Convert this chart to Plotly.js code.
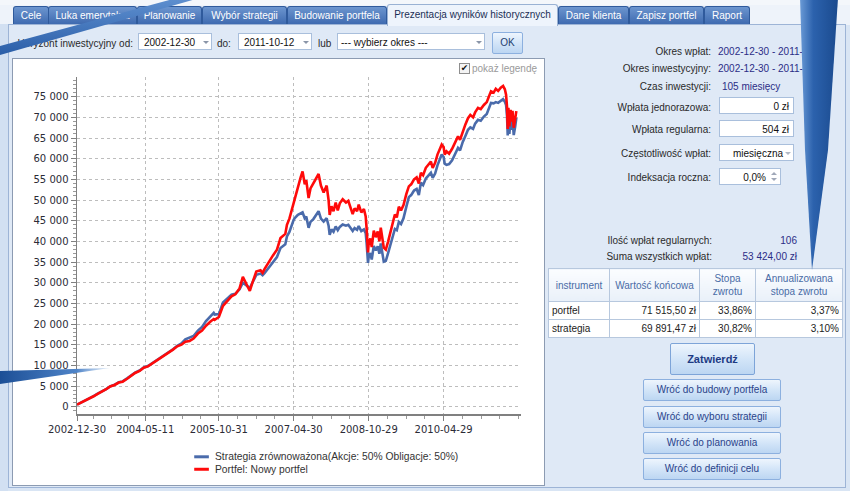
<!DOCTYPE html>
<html><head><meta charset="utf-8">
<script src="https://cdn.plot.ly/plotly-3.0.1.min.js"></script>
<style>
body{margin:0;width:850px;height:491px;overflow:hidden;background:#d9e5f4;font-family:"Liberation Sans",Arial,sans-serif;font-size:10px;color:#222;position:relative}
.abs{position:absolute}
.tab{position:absolute;top:6px;height:17px;border:1px solid #2f5a9c;border-bottom:none;border-radius:3px 3px 0 0;background:linear-gradient(#6c95cf,#3f6bb0);color:#fff;text-align:center;line-height:17px;font-size:10px;white-space:nowrap;overflow:hidden}
.tab.act{top:4px;height:21px;background:#eef4fc;border-color:#9ab2d4;color:#1b2f55;line-height:19px;z-index:2}
.box{position:absolute;background:#fff;border:1px solid #a9bfdc;height:17px;line-height:17px;font-size:10px;color:#111;white-space:nowrap;overflow:hidden}
.arr{position:absolute;width:0;height:0;border-left:3px solid transparent;border-right:3px solid transparent;border-top:3px solid #8a95a8}
.lbl{position:absolute;text-align:right;white-space:nowrap;color:#2a2a2a}
.val{position:absolute;white-space:nowrap;color:#2b2d86}
.btn{position:absolute;border:1px solid #8cb0df;border-radius:2px;background:linear-gradient(#eef5fd,#d3e5f8 50%,#bcd6f2);color:#2a438a;text-align:center;font-size:10px;white-space:nowrap}
table{border-collapse:collapse;font-size:10px}
td{border:1px solid #b7c8de;padding:0 3px;white-space:nowrap}
th{border:1px solid #b7c8de;font-weight:normal;color:#4a6ca6;background:linear-gradient(#fbfdff,#e9f0f9);line-height:13px}
</style></head>
<body>
<div class="abs" style="left:0;top:0;width:850px;height:5px;background:#f4f7fb;border-bottom:1px solid #c9d6e8"></div>
<div class="abs" style="left:0;top:5px;width:850px;height:20px;background:#eef3fa"></div>
<div class="abs" style="left:8px;top:24px;width:836px;height:462px;background:#dfe9f6;border:1px solid #9db4d6"></div>
<div class="abs" style="left:0;top:24px;width:8px;height:467px;background:#d2e0f2"></div>
<div id="tabs"></div>
<div class="lbl" style="left:0;width:133px;top:38px">Horyzont inwestycyjny od:</div>
<div class="box" style="left:138px;top:33px;width:74px;padding-left:5px;box-sizing:border-box">2002-12-30</div>
<div class="arr" style="left:203px;top:41px"></div>
<div class="lbl" style="left:217px;top:38px;text-align:left">do:</div>
<div class="box" style="left:238px;top:33px;width:74px;padding-left:5px;box-sizing:border-box">2011-10-12</div>
<div class="arr" style="left:303px;top:41px"></div>
<div class="lbl" style="left:318px;top:38px;text-align:left">lub</div>
<div class="box" style="left:337px;top:33px;width:148px;padding-left:3px;box-sizing:border-box">--- wybierz okres ---</div>
<div class="arr" style="left:476px;top:41px"></div>
<div class="btn" style="left:492px;top:32px;width:29px;height:20px;line-height:20px;color:#23406f">OK</div>
<div class="abs" style="left:12px;top:58px;width:531px;height:426px;background:#fff;border:1px solid #8c9bb2"></div>
<div id="chart" class="abs" style="left:12px;top:58px;width:532px;height:427px"></div>
<div class="abs" style="left:459px;top:63px;width:9px;height:9px;border:1px solid #8e8e8e;background:#f4f4f4;font-family:'DejaVu Sans';font-size:9px;line-height:9px;text-align:center;color:#111">✔</div>
<div class="abs" style="left:472px;top:63px;color:#9a9a9a;font-size:10px">pokaż legendę</div>
<div class="lbl" style="right:139px;top:46px">Okres wpłat:</div>
<div class="val" style="left:718px;top:46px">2002-12-30 - 2011-10-12</div>
<div class="lbl" style="right:139px;top:63px">Okres inwestycyjny:</div>
<div class="val" style="left:718px;top:63px">2002-12-30 - 2011-10-12</div>
<div class="lbl" style="right:139px;top:81px">Czas inwestycji:</div>
<div class="val" style="left:722px;top:81px">105 miesięcy</div>
<div class="lbl" style="right:139px;top:102px">Wpłata jednorazowa:</div>
<div class="box" style="left:719px;top:97px;width:75px;text-align:right;padding-right:4px;box-sizing:border-box">0 zł</div>
<div class="lbl" style="right:139px;top:124px">Wpłata regularna:</div>
<div class="box" style="left:719px;top:120px;width:75px;text-align:right;padding-right:4px;box-sizing:border-box">504 zł</div>
<div class="lbl" style="right:139px;top:148px">Częstotliwość wpłat:</div>
<div class="box" style="left:719px;top:144px;width:75px;padding-left:13px;box-sizing:border-box">miesięczna</div>
<div class="arr" style="left:785px;top:152px;border-top-color:#b0b8c6"></div>
<div class="lbl" style="right:139px;top:172px">Indeksacja roczna:</div>
<div class="box" style="left:719px;top:168px;width:62px;text-align:right;padding-right:14px;box-sizing:border-box">0,0%</div>
<div class="abs" style="left:771px;top:172px;width:0;height:0;border-left:3px solid transparent;border-right:3px solid transparent;border-bottom:3px solid #a0a8b8"></div>
<div class="abs" style="left:771px;top:178px;width:0;height:0;border-left:3px solid transparent;border-right:3px solid transparent;border-top:3px solid #a0a8b8"></div>
<div class="lbl" style="right:138px;top:235px">Ilość wpłat regularnych:</div>
<div class="val" style="right:53px;top:235px">106</div>
<div class="lbl" style="right:138px;top:251px">Suma wszystkich wpłat:</div>
<div class="val" style="right:53px;top:251px">53 424,00 zł</div>
<table class="abs" style="left:548px;top:268px;width:295px;background:#fff">
<tr style="height:33px"><th style="width:58px">instrument</th><th style="width:87px">Wartość końcowa</th><th style="width:53px">Stopa<br>zwrotu</th><th>Annualizowana<br>stopa zwrotu</th></tr>
<tr style="height:18px"><td>portfel</td><td style="text-align:right">71 515,50 zł</td><td style="text-align:right">33,86%</td><td style="text-align:right">3,37%</td></tr>
<tr style="height:18px"><td>strategia</td><td style="text-align:right">69 891,47 zł</td><td style="text-align:right">30,82%</td><td style="text-align:right">3,10%</td></tr>
</table>
<div class="btn" style="left:670px;top:343px;width:83px;height:30px;line-height:30px;font-weight:bold;font-size:11px;color:#1d3b84;border-color:#7da4d8">Zatwierdź</div>
<div class="btn" style="left:643px;top:379px;width:136px;height:20px;line-height:20px">Wróć do budowy portfela</div>
<div class="btn" style="left:643px;top:406px;width:136px;height:20px;line-height:20px">Wróć do wyboru strategii</div>
<div class="btn" style="left:643px;top:432px;width:136px;height:20px;line-height:20px">Wróć do planowania</div>
<div class="btn" style="left:643px;top:458px;width:136px;height:20px;line-height:20px">Wróć do definicji celu</div>
<svg class="abs" style="left:0;top:0;z-index:20;pointer-events:none" width="850" height="491">
<defs>
<linearGradient id="g1" x1="0" y1="0" x2="1" y2="0"><stop offset="0" stop-color="#1c4f96"/><stop offset="0.7" stop-color="#4f84c8"/><stop offset="1" stop-color="#c9dcf2" stop-opacity="0.6"/></linearGradient>
<linearGradient id="g2" x1="0" y1="0" x2="1" y2="0"><stop offset="0" stop-color="#6a9ad6"/><stop offset="0.35" stop-color="#2c62ad"/><stop offset="1" stop-color="#1a4a8e"/></linearGradient>
<linearGradient id="g3" x1="0" y1="0" x2="0" y2="1"><stop offset="0" stop-color="#5e8fcf"/><stop offset="1" stop-color="#2a5ea8"/></linearGradient>
</defs>
<polygon points="0,46 0,55 196,-1 173,-1" fill="url(#g3)"/>
<polygon points="0,371 110,368 0,384" fill="url(#g1)"/>
<polygon points="800,-2 838,-2 828,150 812,270 805,150" fill="url(#g2)"/>
</svg>
<script>
// ---- data ----
var dates = ["2002-12-30","2003-01-31","2003-02-28","2003-03-31","2003-04-30","2003-05-30","2003-06-30","2003-07-31","2003-08-29","2003-09-30","2003-10-31","2003-11-28","2003-12-31","2004-01-30","2004-02-27","2004-03-31","2004-04-30","2004-05-31","2004-06-30","2004-07-30","2004-08-31","2004-09-30","2004-10-29","2004-11-30","2004-12-31","2005-01-31","2005-02-28","2005-03-31","2005-04-29","2005-05-31","2005-06-30","2005-07-29","2005-08-31","2005-09-23","2005-09-30","2005-10-31","2005-11-30","2005-12-30","2006-01-31","2006-02-28","2006-03-31","2006-04-24","2006-05-12","2006-05-31","2006-06-14","2006-06-30","2006-07-31","2006-08-31","2006-09-15","2006-09-29","2006-10-31","2006-11-30","2006-12-29","2007-01-24","2007-02-28","2007-03-12","2007-03-30","2007-04-30","2007-05-10","2007-05-31","2007-06-20","2007-07-04","2007-07-20","2007-07-31","2007-08-17","2007-08-31","2007-09-21","2007-10-12","2007-10-29","2007-11-15","2007-11-30","2007-12-05","2007-12-27","2008-01-10","2008-01-18","2008-01-31","2008-02-15","2008-03-02","2008-03-17","2008-04-01","2008-04-22","2008-05-16","2008-06-02","2008-06-19","2008-07-04","2008-07-18","2008-08-05","2008-08-17","2008-09-05","2008-09-24","2008-10-07","2008-10-14","2008-10-24","2008-10-29","2008-11-10","2008-11-20","2008-12-05","2008-12-20","2009-01-03","2009-01-15","2009-01-25","2009-02-16","2009-03-03","2009-03-20","2009-04-08","2009-04-24","2009-05-08","2009-05-22","2009-06-06","2009-06-22","2009-07-10","2009-07-31","2009-08-18","2009-09-04","2009-09-25","2009-10-14","2009-10-30","2009-11-14","2009-11-30","2009-12-20","2010-01-12","2010-01-26","2010-02-08","2010-02-26","2010-03-15","2010-03-31","2010-04-15","2010-04-29","2010-05-07","2010-05-20","2010-06-08","2010-06-30","2010-07-20","2010-08-12","2010-08-27","2010-09-15","2010-10-05","2010-10-24","2010-11-10","2010-11-30","2010-12-15","2011-01-05","2011-01-25","2011-02-17","2011-03-10","2011-03-25","2011-04-10","2011-04-29","2011-05-15","2011-06-01","2011-06-20","2011-07-07","2011-07-20","2011-07-29","2011-08-05","2011-08-10","2011-08-15","2011-08-22","2011-08-31","2011-09-08","2011-09-14","2011-09-23","2011-10-04","2011-10-12"];
var portfel = [504,1010,1490,1960,2520,3120,3620,4230,4900,5250,5850,6050,6750,7500,8150,8650,9450,9750,10400,11050,11800,12300,12950,13800,14600,15000,15700,15900,16500,17700,18400,19600,20600,21200,21000,21700,24400,25400,26700,27200,28600,31400,30200,28600,28000,29700,32700,33000,32400,33300,35100,36600,38000,40800,41800,44000,45500,49500,50500,53500,55500,56900,53800,54800,50500,52800,54000,55200,56300,53500,52500,51800,53500,50000,46400,48500,47300,49400,47500,49200,50200,49400,49800,48200,46600,48000,47300,48900,47000,47800,46000,43000,37300,39700,40700,38600,42600,41000,42400,40000,43300,38500,38000,40000,42500,44300,46500,45800,48400,47500,48800,51500,53300,53800,55000,55500,54000,56600,56000,57800,58600,59300,57800,59000,61000,62300,63400,62800,61000,61800,61200,62400,63800,65400,64600,66700,68300,69800,70600,70000,71200,72300,72000,73000,73700,75000,76300,76000,76900,76400,77200,77600,76800,75500,72500,67200,72300,67800,71800,69000,71600,67500,69800,71515.50];
var strategia = [504,1010,1500,1980,2540,3140,3650,4260,4930,5300,5900,6120,6850,7600,8250,8750,9500,9850,10500,11150,11900,12400,13050,13900,14750,15300,16300,16700,17100,18400,19300,20700,22000,22700,22300,22400,25200,26100,27100,27300,28400,30000,29600,29000,28700,29800,31900,32200,31800,32300,33700,35000,36200,38400,39300,41200,42300,45200,45700,46400,46800,47000,45600,46000,43300,44700,45400,46500,47300,45500,45000,44800,45600,43800,41600,42900,42300,43600,42700,43500,44100,43800,44000,43300,42500,43200,42800,43700,42500,42900,42000,39500,34800,36300,37200,35600,38900,37800,38800,37000,39500,35100,35300,37200,39500,41100,43000,42700,44700,44200,45600,48400,50700,51200,52300,52700,51200,54200,53600,55200,56000,56600,55400,56400,58400,59800,61000,60400,58800,58500,58700,59600,61100,62600,62000,64000,65500,67000,67600,67200,68500,69400,69200,70200,70800,72200,73500,73400,73700,73500,74000,74400,73800,73000,70300,65600,70200,66000,69600,67000,69700,65700,67900,69891.47];
var seriesNames = ["Strategia zrównoważona(Akcje: 50% Obligacje: 50%)","Portfel: Nowy portfel"];
var seriesColors = ["#4a6bab","#ff0a0a"];
var tickDates = ["2002-12-30","2004-05-11","2005-10-31","2007-04-30","2008-10-29","2010-04-29"];
var tabNames = ["Cele","Luka emerytalna","Planowanie","Wybór strategii","Budowanie portfela","Prezentacja wyników historycznych","Dane klienta","Zapisz portfel","Raport"];
var tabEdges = [[13,47],[48,135],[137,200],[202,285],[287,385],[387,556],[558,627],[629,702],[704,748]];

var th = "";
tabNames.forEach(function(n,i){
  var e = tabEdges[i];
  th += '<div class="tab'+(i===5?' act':'')+'" style="left:'+e[0]+'px;width:'+(e[1]-e[0])+'px">'+n+'</div>';
});
document.getElementById("tabs").innerHTML = th;

var rangeEnd = "2011-11-15";
var ms = tickDates.map(function(d){return Date.parse(d);});
var minor = [];
for (var i=0;i<ms.length-1;i++){ var st=(ms[i+1]-ms[i])/4; for(var k=1;k<4;k++) minor.push(new Date(ms[i]+k*st).toISOString().slice(0,10)); }
var lastStep = (ms[ms.length-1]-ms[ms.length-2])/4;
for (var t=ms[ms.length-1]+lastStep; t<Date.parse(rangeEnd); t+=lastStep) minor.push(new Date(t).toISOString().slice(0,10));

var traces = [
 {x:dates, y:strategia, type:"scatter", mode:"lines", name:seriesNames[0], line:{color:seriesColors[0], width:2.6}},
 {x:dates, y:portfel, type:"scatter", mode:"lines", name:seriesNames[1], line:{color:seriesColors[1], width:2.6}}
];
var legY = [-0.127, -0.164];
var shapes = [], annotations = [];
seriesNames.forEach(function(n,i){
  shapes.push({type:"line", xref:"paper", yref:"paper", x0:0.264, x1:0.297, y0:legY[i], y1:legY[i], line:{color:seriesColors[i], width:3}});
  annotations.push({xref:"paper", yref:"paper", x:0.306, y:legY[i], xanchor:"left", yanchor:"middle", showarrow:false, text:n, font:{family:"Liberation Sans", size:10.3, color:"#333"}});
});
var tickFont = {family:"DejaVu Sans", size:10, color:"#2b2b36"};
var layout = {
  width:532, height:427,
  margin:{l:65, r:23, t:19, b:71},
  paper_bgcolor:"rgba(0,0,0,0)", plot_bgcolor:"#fff",
  separators:", ",
  showlegend:false,
  shapes:shapes, annotations:annotations,
  xaxis:{type:"date", range:["2002-12-30", rangeEnd], tickmode:"array", tickvals:tickDates, ticktext:tickDates,
    showline:true, linecolor:"#808080", linewidth:1.5, ticks:"outside", ticklen:5, tickcolor:"#808080",
    showgrid:true, gridcolor:"#bdbdbd", griddash:"dot", gridwidth:1, tickfont:tickFont, zeroline:false,
    minor:{tickvals:minor, ticks:"outside", ticklen:3, tickcolor:"#9a9a9a", showgrid:false}},
  yaxis:{range:[-1770, 79770], tickmode:"linear", tick0:0, dtick:5000, tickformat:",d",
    showline:true, linecolor:"#808080", linewidth:1.5, ticks:"outside", ticklen:5, tickcolor:"#808080",
    showgrid:true, gridcolor:"#bdbdbd", griddash:"dot", gridwidth:1, tickfont:tickFont, zeroline:false,
    minor:{dtick:1000, ticks:"outside", ticklen:3, tickcolor:"#9a9a9a", showgrid:false}}
};
Plotly.newPlot("chart", traces, layout, {displayModeBar:false, staticPlot:true});
</script>
</body></html>
